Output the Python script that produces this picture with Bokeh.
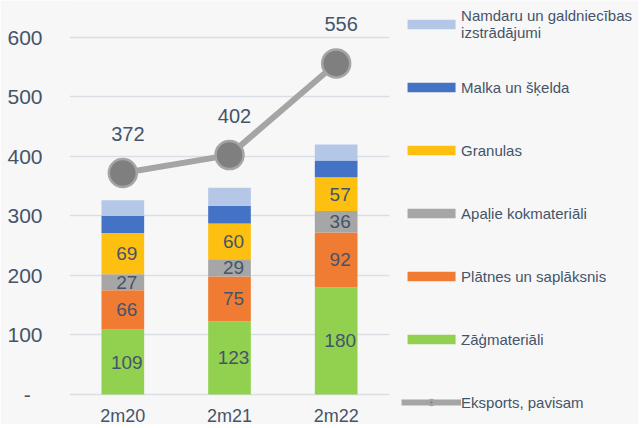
from bokeh.plotting import figure
from bokeh.models import (ColumnDataSource, FixedTicker, Legend, LegendItem, LabelSet,
                          Range1d, Grid)
from bokeh.core.properties import value
from bokeh.embed import file_html
from bokeh.resources import INLINE

# ---- data ----
periods = ["2m20", "2m21", "2m22"]
zagmateriali = [109, 123, 180]
platnes = [66, 75, 92]
apalie = [27, 29, 36]
granulas = [69, 60, 57]
malka = [29, 30, 28]
namdaru = [26, 30, 27]
eksports = [372, 402, 556]
y_ticks = [0, 100, 200, 300, 400, 500, 600]

series_keys = ["zag", "plat", "apal", "gran", "malka", "namd"]
series_labels = ["Zāģmateriāli", "Plātnes un saplāksnis", "Apaļie kokmateriāli",
                 "Granulas", "Malka un šķelda", "Namdaru un galdniecības\nizstrādājumi"]
series_values = [zagmateriali, platnes, apalie, granulas, malka, namdaru]
colors = ["#92d050", "#f07c33", "#a6a6a6", "#fdc010", "#4472c4", "#b4c7e7"]
line_label = "Eksports, pavisam"

TEXT = "#44546a"
FONT = "Liberation Sans"
GRID = "#dadfe6"
BG = "#f7f7f7"

# layout (pixels)
W, H = 638, 424
LEFT = 69
PLOT_W = 320          # width of the bar area
ZERO_Y = 394          # pixel row of value 0
PX_PER_UNIT = 0.5955  # pixels per value unit

n = len(periods)
xpos = [i + 0.5 for i in range(n)]
frame_w = W - LEFT

data = {"x": xpos, "period": periods}
for k, v in zip(series_keys, series_values):
    data[k] = v
source = ColumnDataSource(data)

p = figure(x_range=Range1d(0, n * frame_w / PLOT_W),
           y_range=Range1d(-(H - ZERO_Y) / PX_PER_UNIT, ZERO_Y / PX_PER_UNIT),
           width=W, height=H, output_backend="svg", toolbar_location=None,
           min_border_left=LEFT, min_border_right=0, min_border_top=0, min_border_bottom=0,
           background_fill_color=BG, border_fill_color=BG, outline_line_color=None)

bars = p.vbar_stack(series_keys, x="x", width=0.4, source=source,
                    color=colors, line_color=None)

line_r = p.line(xpos, eksports, line_width=6, color="#a5a5a5")
pts_r = p.scatter(xpos, eksports, size=28, fill_color="#7f7f7f",
                  line_color="#a5a5a5", line_width=2.5)

# bar segment labels (first four series)
lab_x, lab_y, lab_t = [], [], []
for i in range(n):
    base = 0
    for j, vals in enumerate(series_values):
        if j < 4:
            lab_x.append(xpos[i])
            lab_y.append(base + vals[i] / 2)
            lab_t.append(str(vals[i]))
        base += vals[i]
p.add_layout(LabelSet(x="x", y="y", text="t",
                      source=ColumnDataSource(dict(x=lab_x, y=lab_y, t=lab_t)),
                      x_offset=4, text_align="center", text_baseline="middle",
                      text_font=value(FONT), text_font_size="19px", text_color=TEXT))

# line labels
p.add_layout(LabelSet(x="x", y="y", text="t",
                      source=ColumnDataSource(dict(x=xpos, y=eksports,
                                                   t=[str(v) for v in eksports])),
                      x_offset=5, y_offset=39, text_align="center", text_baseline="middle",
                      text_font=value(FONT), text_font_size="20px", text_color=TEXT))

# category labels under the bars
p.add_layout(LabelSet(x="x", y="y", text="t",
                      source=ColumnDataSource(dict(x=xpos, y=[0] * n, t=periods)),
                      y_offset=-21, text_align="center", text_baseline="middle",
                      text_font=value(FONT), text_font_size="18px", text_color=TEXT))

# axes / grid
p.xaxis.visible = False
p.xgrid.grid_line_color = None
p.ygrid.grid_line_color = GRID
p.ygrid.grid_line_width = 1.5
p.yaxis.ticker = FixedTicker(ticks=y_ticks)
p.yaxis.major_label_overrides = {0: "-\u00a0\u00a0"}
yax = p.yaxis[0]
yax.major_tick_line_color = None
yax.minor_tick_line_color = None
yax.major_tick_out = 0
yax.major_tick_in = 0
yax.major_label_text_font = FONT
yax.major_label_text_color = TEXT
yax.axis_line_color = None
yax.major_label_text_font_size = "21px"
yax.major_label_standoff = 27
if "cross_bounds" in Grid.properties():
    p.ygrid.cross_bounds = (0, n)
else:
    p.ygrid.grid_line_color = None
    p.segment(x0=[0] * len(y_ticks), x1=[n] * len(y_ticks), y0=y_ticks, y1=y_ticks,
              line_color=GRID, line_width=1.5, level="underlay")

# legend
items = [LegendItem(label=series_labels[j], renderers=[bars[j]]) for j in [5, 4, 3, 2, 1, 0]]
items.append(LegendItem(label=line_label, renderers=[line_r, pts_r]))
leg = Legend(items=items, location="top_right", glyph_width=60, glyph_height=12,
             label_height=36, label_standoff=0, spacing=27, padding=0, margin=6,
             border_line_color=None, background_fill_alpha=0,
             label_text_font=FONT, label_text_font_size="15px", label_text_color=TEXT)
p.add_layout(leg, "center")

open("out.html", "w").write(file_html(p, INLINE))
